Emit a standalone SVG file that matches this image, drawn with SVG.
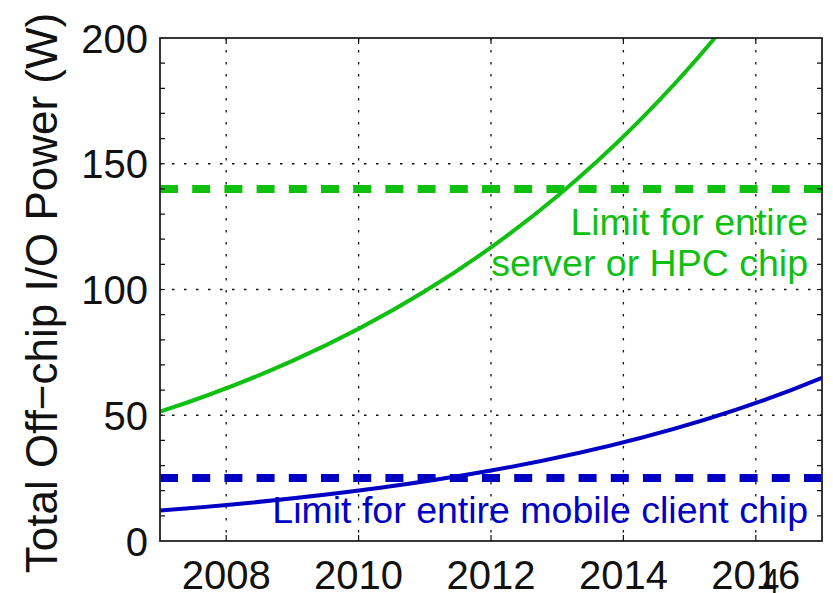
<svg xmlns="http://www.w3.org/2000/svg" width="833" height="593" viewBox="0 0 833 593">
  <style>
    .tick { font-family: "Liberation Sans", Arial, Helvetica, sans-serif; font-size: 40px; fill: #111; }
    .grid { stroke: #111; stroke-width: 1.3; stroke-dasharray: 2.5 9.5; fill: none; }
    .tk { stroke: #111; stroke-width: 1.2; fill: none; }
    .lbl { font-family: "Liberation Sans", Arial, Helvetica, sans-serif; font-size: 37.5px; }
  </style>
  <defs>
    <clipPath id="plotclip"><rect x="160" y="38" width="662" height="503"/></clipPath>
  </defs>
  <rect width="833" height="593" fill="#fff"/>

  <g id="grid">
    <line class="grid" x1="226.2" y1="38" x2="226.2" y2="541"/>
    <line class="grid" x1="358.6" y1="38" x2="358.6" y2="541"/>
    <line class="grid" x1="491" y1="38" x2="491" y2="541"/>
    <line class="grid" x1="623.4" y1="38" x2="623.4" y2="541"/>
    <line class="grid" x1="755.8" y1="38" x2="755.8" y2="541"/>
    <line class="grid" x1="160" y1="415.25" x2="822" y2="415.25"/>
    <line class="grid" x1="160" y1="289.5" x2="822" y2="289.5"/>
    <line class="grid" x1="160" y1="163.75" x2="822" y2="163.75"/>
  </g>

  <g id="limits" clip-path="url(#plotclip)">
    <line x1="160" y1="188.9" x2="822" y2="188.9" stroke="#10c010" stroke-width="8" stroke-dasharray="18 14.2"/>
    <line x1="160" y1="478.1" x2="822" y2="478.1" stroke="#0000c4" stroke-width="8" stroke-dasharray="18 14.2"/>
  </g>

  <g id="curves" clip-path="url(#plotclip)" fill="none" stroke-width="4" stroke-linecap="round">
    <path id="server-curve" stroke="#10c010" d="M160,411.7 C204.13,397.32 248.27,380.66 292.4,360.9 C336.53,341.14 380.67,318.33 424.8,291.3 C468.93,264.27 513.07,233.01 557.2,196.2 C609.72,152.4 662.24,100.82 714.76,38 L722,29"/>
    <path id="mobile-curve" stroke="#0000c4" d="M160,510.59 C270.33,502.08 380.67,490.29 491,470.57 C601.33,450.85 711.67,423.53 822,377.85"/>
  </g>

  <g id="axes">
    <rect x="160" y="38" width="662" height="503" fill="none" stroke="#222" stroke-width="1.8"/>
    <path class="tk" d="M160,515.85h5M160,490.7h5M160,465.55h5M160,440.4h5M160,415.25h5M160,390.1h5M160,364.95h5M160,339.8h5M160,314.65h5M160,289.5h5M160,264.35h5M160,239.2h5M160,214.05h5M160,188.9h5M160,163.75h5M160,138.6h5M160,113.45h5M160,88.3h5M160,63.15h5"/>
    <path class="tk" d="M822,515.85h-5M822,490.7h-5M822,465.55h-5M822,440.4h-5M822,415.25h-5M822,390.1h-5M822,364.95h-5M822,339.8h-5M822,314.65h-5M822,289.5h-5M822,264.35h-5M822,239.2h-5M822,214.05h-5M822,188.9h-5M822,163.75h-5M822,138.6h-5M822,113.45h-5M822,88.3h-5M822,63.15h-5"/>
    <path class="tk" d="M226.2,541v-6M358.6,541v-6M491,541v-6M623.4,541v-6M755.8,541v-6M226.2,38v6M358.6,38v6M491,38v6M623.4,38v6M755.8,38v6"/>
  </g>

  <g id="yticks" class="tick" text-anchor="end">
    <text x="148" y="52.5">200</text>
    <text x="148" y="178.3">150</text>
    <text x="148" y="304">100</text>
    <text x="148" y="429.8">50</text>
    <text x="148" y="555.5">0</text>
  </g>
  <g id="xticks" class="tick" text-anchor="middle">
    <text x="226.2" y="588.5">2008</text>
    <text x="358.6" y="588.5">2010</text>
    <text x="491" y="588.5">2012</text>
    <text x="623.4" y="588.5">2014</text>
    <text x="755.8" y="588.5">2016</text>
  </g>

  <text id="ytitle" class="tick" text-anchor="middle" transform="translate(57,293) rotate(-90)" style="font-size:44px">Total Off−chip I/O Power (W)</text>

  <g id="server-label" class="lbl" fill="#10c010" text-anchor="end">
    <text x="808" y="235">Limit for entire</text>
    <text x="808" y="276">server or HPC chip</text>
  </g>
  <g id="mobile-label" class="lbl" fill="#0000c4" text-anchor="end">
    <text x="808" y="523">Limit for entire mobile client chip</text>
  </g>

  <text id="page-number" transform="translate(771,593) scale(0.85,1)" text-anchor="middle" font-family="'Liberation Sans', Arial, sans-serif" font-size="35" fill="#111">4</text>
</svg>
